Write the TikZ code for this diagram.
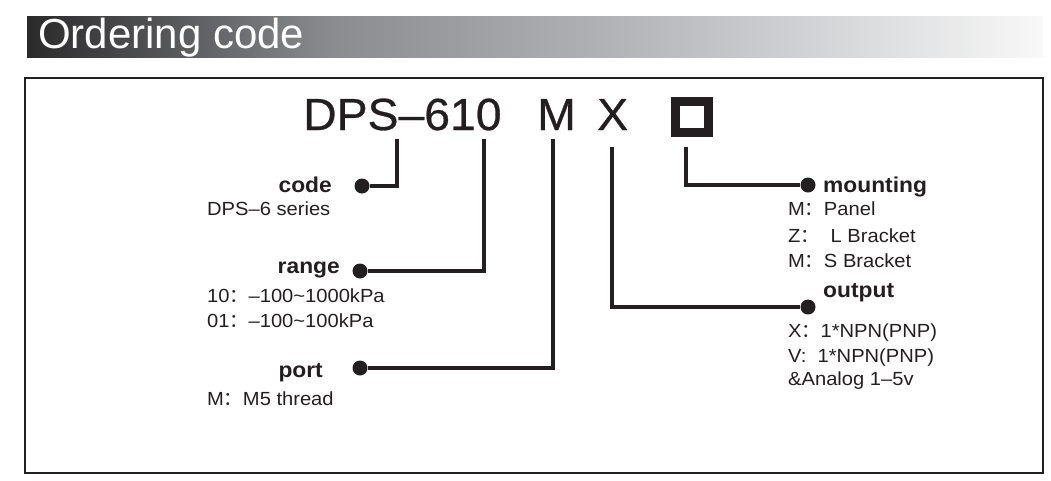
\documentclass[tikz,border=0pt]{standalone}
\usepackage{fontspec}
\setmainfont{Liberation Sans}
\newfontfamily\widefont[FakeStretch=1.06]{Liberation Sans}
\newfontfamily\lblfont[FakeStretch=1.06]{Liberation Sans}
\newfontfamily\titlefont[FakeStretch=1.03,FakeBold=0.6]{Liberation Sans}
\newfontfamily\cjkfont{Noto Sans CJK SC}
\newcommand{\fcol}{{\cjkfont ：}}
\definecolor{ink}{HTML}{231F20}
\definecolor{hA}{HTML}{2A2A2A}
\definecolor{hB}{HTML}{3A3A3C}
\definecolor{hC}{HTML}{8A8B8F}
\definecolor{hD}{HTML}{AFB1B4}
\definecolor{hE}{HTML}{D8D9DB}
\definecolor{hF}{HTML}{F8F8F8}
\pgfdeclarehorizontalshading{hdrshade}{100bp}{color(0bp)=(hA); color(25bp)=(hA); color(27.6bp)=(hB); color(39.9bp)=(hC); color(53.2bp)=(hD); color(65.5bp)=(hE); color(75bp)=(hF); color(100bp)=(hF)}
\begin{document}
\begin{tikzpicture}[x=1pt,y=-1pt,
  lbl/.style={inner sep=0, font=\lblfont\bfseries\fontsize{21.5}{24}\selectfont, text=ink},
  desc/.style={inner sep=0, font=\widefont\fontsize{19}{21}\selectfont, text=ink},
  lead/.style={line width=4pt, draw=ink},
  pin/.style={circle, fill=ink, inner sep=0, minimum size=15pt},
  big/.style={inner sep=0, font=\titlefont\fontsize{45}{50}\selectfont, text=ink, anchor=base west},
]
\useasboundingbox (0,0) rectangle (1051,480);
% header bar
\shade[shading=hdrshade] (27,16) rectangle (1043,57);
\node[inner sep=0, anchor=base west, text=white, font=\fontsize{42}{46}\selectfont] (hdr) at (38,48) {Ordering code};
% frame
\draw[line width=2pt, draw=ink] (25,78) rectangle (1043,473);
% title
\node[big] (series) at (303,130) {DPS–610};
\node[big] (portcode) at (537,130) {M};
\node[big] (outcode) at (597,130) {X};
\draw[line width=9pt, draw=ink] (675.2,101.2) rectangle (708.2,132.2);
\node[inner sep=0, minimum width=42pt, minimum height=40pt] (mountcode) at (691.7,116.7) {};
% connector tops
\coordinate (codeTop) at (397,139);
\coordinate (rangeTop) at (484,139);
\coordinate (portTop) at (553,139);
\coordinate (outTop) at (612,147);
\coordinate (mountTop) at (686,147);
% dots
\node[pin] (codeDot) at (362,186) {};
\node[pin] (rangeDot) at (360,271) {};
\node[pin] (portDot) at (360,368) {};
\node[pin] (mountDot) at (808,185) {};
\node[pin] (outDot) at (808,307) {};
% leads
\draw[lead] (codeTop) |- (codeDot);
\draw[lead] (rangeTop) |- (rangeDot);
\draw[lead] (portTop) |- (portDot);
\draw[lead] (mountTop) |- (mountDot);
\draw[lead] (outTop) |- (outDot);
% left labels
\node[lbl, anchor=base east] (codeL) at (332,192) {code};
\node[desc, anchor=base west] (codeD) at (207,215) {DPS–6 series};
\node[lbl, anchor=base east] (rangeL) at (340,273) {range};
\node[desc, anchor=base west] (rangeD1) at (207,302) {10\fcol–100\textasciitilde1000kPa};
\node[desc, anchor=base west] (rangeD2) at (207,327) {01\fcol–100\textasciitilde100kPa};
\node[lbl, anchor=base east] (portL) at (323,377) {port};
\node[desc, anchor=base west] (portD) at (207,405) {M\fcol M5 thread};
% right labels
\node[lbl, anchor=base west] (mountL) at (823,192) {mounting};
\node[desc, anchor=base west] (mountD1) at (788,215) {M\fcol Panel};
\node[desc, anchor=base west] (mountD2) at (788,242) {Z\fcol\ \ L Bracket};
\node[desc, anchor=base west] (mountD3) at (788,267) {M\fcol S Bracket};
\node[lbl, anchor=base west] (outL) at (823,297) {output};
\node[desc, anchor=base west] (outD1) at (788,337) {X\fcol 1*NPN(PNP)};
\node[desc, anchor=base west] (outD2) at (788,362) {V:\ \ 1*NPN(PNP)};
\node[desc, anchor=base west] (outD3) at (788,385) {\&Analog 1–5v};
\end{tikzpicture}
\end{document}
